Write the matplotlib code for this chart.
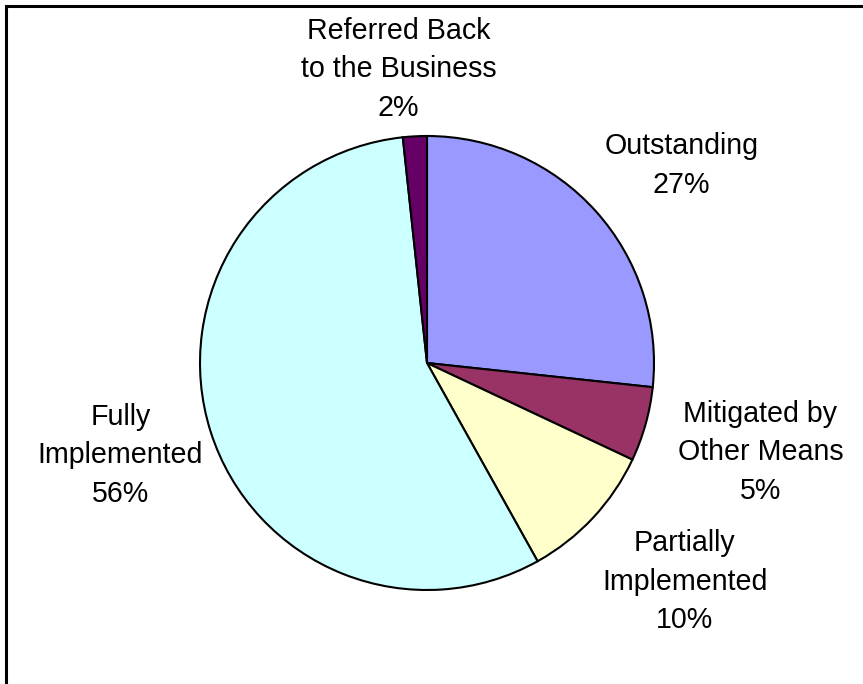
import matplotlib.pyplot as plt
from matplotlib.patches import Rectangle
import numpy as np

labels = ["Outstanding", "Mitigated by\nOther Means", "Partially\nImplemented",
          "Fully\nImplemented", "Referred Back\nto the Business"]
values = [26.7, 5.3, 9.9, 56.4, 1.7]
shown_pct = ["27%", "5%", "10%", "56%", "2%"]
colors = ["#9999FF", "#993366", "#FFFFCC", "#CCFFFF", "#660066"]

plt.rcParams['font.family'] = ['Liberation Sans', 'DejaVu Sans']

fig = plt.figure(figsize=(8.63, 6.84), dpi=100)
# pie centre at (427, 363) px, radius ~227 px
R = 227
cx, cy = 427, 684 - 363
ax = fig.add_axes([(cx - R) / 863, (cy - R) / 684, 2 * R / 863, 2 * R / 684])
wedges, _ = ax.pie(values, colors=colors, startangle=90, counterclock=False,
                   wedgeprops=dict(edgecolor="black", linewidth=1.5))
ax.set_xlim(-1, 1)
ax.set_ylim(-1, 1)

# label placement: radial distance and angle tweak per slice
dist = [1.42, 1.52, 1.49, 1.41, 1.30]
dang = [-4.1, 0.7, 2.7, -0.9, 2.5]
for w, lab, pct, d, da in zip(wedges, labels, shown_pct, dist, dang):
    mid = np.deg2rad((w.theta1 + w.theta2) / 2 + da)
    ax.text(d * np.cos(mid), d * np.sin(mid), lab + "\n" + pct,
            ha="center", va="center", fontsize=20.6, linespacing=1.48,
            clip_on=False)

fig.patches.append(Rectangle((6 / 863, -0.1), 1.2, 1 - 6 / 684 + 0.1,
                             transform=fig.transFigure, fill=False,
                             edgecolor="black", linewidth=2.2))

fig.savefig("out.png", dpi=100)
